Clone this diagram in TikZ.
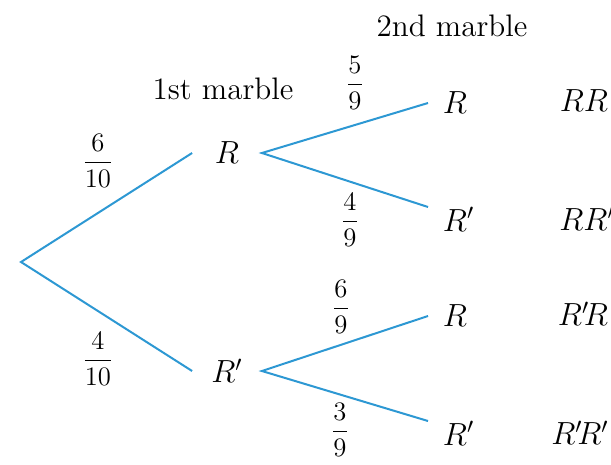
\documentclass[tikz,border=0pt]{standalone}
\usepackage{amsmath,amssymb}
\usepackage{xcolor}
\definecolor{branchblue}{RGB}{45,152,211}

\begin{document}
\begin{tikzpicture}[x=0.45pt, y=-0.45pt, font=\fontsize{14}{16}\selectfont,
  branch/.style={draw=branchblue, line width=0.9pt},
  first/.style={inner sep=0pt, minimum width=31pt, minimum height=14pt},
  second/.style={inner xsep=6.5pt, inner ysep=0pt},
  prob/.style={font=\fontsize{13}{15}\selectfont}]
\useasboundingbox (0,0) rectangle (611,464);
\coordinate (root) at (21,262);
\node[first](r) at (227,153){$R$};
\node[first](rc) at (227,371){$R'$};
\node[second, anchor=west](rr) at (428,103){$R$};
\node[second, anchor=north west](rrc) at (428,207){$R'$};
\node[second, anchor=west](rcr) at (428,316){$R$};
\node[second, anchor=north west](rcrc) at (428,421){$R'$};
\node(out1) at (584,101){$RR$};
\node(out2) at (587,219){$RR'$};
\node(out3) at (583,314){$R'\!R$};
\node(out4) at (580,433){$R'\!R'$};
\node(head1) at (223,89){1st marble};
\node(head2) at (452,26){2nd marble};
\draw[branch] (r.west) -- (root) -- (rc.west);
\draw[branch] (rr.west) -- (r.east) -- (rrc.north west);
\draw[branch] (rcr.west) -- (rc.east) -- (rcrc.north west);
\node[prob](p1) at (98,161){$\dfrac{6}{10}$};
\node[prob](p2) at (98,359){$\dfrac{4}{10}$};
\node[prob](p3) at (355,83){$\dfrac{5}{9}$};
\node[prob](p4) at (350,220){$\dfrac{4}{9}$};
\node[prob](p5) at (341,307){$\dfrac{6}{9}$};
\node[prob](p6) at (340,430){$\dfrac{3}{9}$};
\end{tikzpicture}
\end{document}
